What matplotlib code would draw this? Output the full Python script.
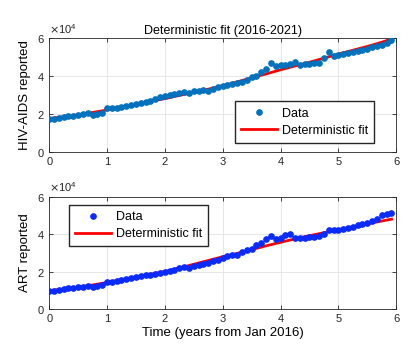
import numpy as np
import matplotlib
matplotlib.use("Agg")
import matplotlib.pyplot as plt
from matplotlib.ticker import ScalarFormatter

plt.rcParams['font.family'] = ['Liberation Sans', 'DejaVu Sans']

# monthly observations, Jan 2016 .. Dec 2021 (x 1e4)
months = np.arange(72)
hiv_data = [1.72, 1.75, 1.78, 1.83, 1.86, 1.90, 1.94, 1.97, 2.02, 1.96, 1.99, 2.02,
            2.28, 2.30, 2.33, 2.36, 2.42, 2.48, 2.52, 2.57, 2.62, 2.70, 2.78, 2.90,
            2.95, 3.00, 3.06, 3.12, 3.15, 3.10, 3.18, 3.20, 3.27, 3.18, 3.33, 3.40,
            3.48, 3.50, 3.56, 3.62, 3.70, 3.78, 3.95, 3.98, 4.18, 4.38, 4.68, 4.50,
            4.55, 4.58, 4.65, 4.72, 4.58, 4.62, 4.65, 4.66, 4.70, 4.95, 5.25, 5.05,
            5.10, 5.15, 5.20, 5.25, 5.30, 5.35, 5.42, 5.50, 5.58, 5.65, 5.75, 5.88]
art_data = [0.98, 1.00, 1.03, 1.08, 1.12, 1.15, 1.18, 1.21, 1.25, 1.21, 1.26, 1.32,
            1.45, 1.48, 1.50, 1.55, 1.60, 1.65, 1.72, 1.78, 1.82, 1.85, 1.90, 1.95,
            2.00, 2.05, 2.12, 2.20, 2.25, 2.20, 2.30, 2.35, 2.40, 2.45, 2.55, 2.65,
            2.75, 2.82, 2.88, 2.90, 3.05, 3.15, 3.20, 3.40, 3.55, 3.75, 3.88, 3.75,
            3.80, 3.95, 4.00, 3.80, 3.78, 3.82, 3.85, 3.85, 3.88, 4.02, 4.22, 4.20,
            4.25, 4.30, 4.35, 4.40, 4.48, 4.52, 4.58, 4.70, 4.80, 5.00, 5.05, 5.15]

# deterministic fit read at quarter-year steps (x 1e4)
fit_t = [0, 0.25, 0.5, 0.75, 1.0, 1.25, 1.5, 1.75, 2.0, 2.25, 2.5, 2.75, 3.0,
         3.25, 3.5, 3.75, 4.0, 4.25, 4.5, 4.75, 5.0, 5.25, 5.5, 5.75, 5.92]
hiv_fit = [1.75, 1.85, 1.95, 2.07, 2.20, 2.35, 2.50, 2.65, 2.80, 2.97, 3.13, 3.30, 3.48,
           3.68, 3.90, 4.10, 4.32, 4.52, 4.72, 4.93, 5.15, 5.35, 5.55, 5.77, 5.95]
art_fit = [1.00, 1.08, 1.18, 1.30, 1.43, 1.58, 1.72, 1.87, 2.02, 2.20, 2.40, 2.60, 2.80,
           2.98, 3.18, 3.38, 3.57, 3.75, 3.92, 4.08, 4.24, 4.40, 4.55, 4.70, 4.80]

t = months / 12.0

fig = plt.figure(figsize=(4.17, 3.48), dpi=100)
ax1 = fig.add_axes([0.118, 0.564, 0.832, 0.327])
ax2 = fig.add_axes([0.118, 0.111, 0.832, 0.324])


def style(ax):
    ax.set_xlim(0, 6)
    ax.set_ylim(0, 6e4)
    ax.set_xticks([0, 1, 2, 3, 4, 5, 6])
    ax.set_yticks([0, 2e4, 4e4, 6e4])
    fmt = ScalarFormatter(useMathText=True)
    fmt.set_powerlimits((0, 0))
    ax.yaxis.set_major_formatter(fmt)
    ax.yaxis.get_offset_text().set_fontsize(8)
    ax.grid(True, color='#e3e3e3', linewidth=0.6)
    ax.set_axisbelow(True)
    ax.tick_params(direction='in', labelsize=8, length=3, width=0.6,
                   top=True, right=True, colors='#262626')
    for s in ax.spines.values():
        s.set_color('#262626')
        s.set_linewidth(0.6)


leg_kw = dict(borderaxespad=0, fontsize=9, fancybox=False, framealpha=1,
              edgecolor='#262626', handlelength=2.9, borderpad=0.5,
              labelspacing=0.4, handletextpad=0.35)

ax1.plot(t, np.array(hiv_data) * 1e4, 'o', color='#0072BD', markersize=3.8,
         label='Data', zorder=3)
ax1.plot(fit_t, np.array(hiv_fit) * 1e4, '-', color='#ff0000', linewidth=2,
         label='Deterministic fit', zorder=2)
style(ax1)
ax1.set_ylabel('HIV-AIDS reported', fontsize=9.5)
ax1.set_title('Deterministic fit (2016-2021)', fontsize=9, pad=3)
ax1.legend(loc='lower right', bbox_to_anchor=(0.937, 0.077), **leg_kw)

ax2.plot(t, np.array(art_data) * 1e4, 'o', color='#0a2bff', markersize=3.8,
         label='Data', zorder=3)
ax2.plot(fit_t, np.array(art_fit) * 1e4, '-', color='#ff0000', linewidth=2,
         label='Deterministic fit', zorder=2)
style(ax2)
ax2.set_ylabel('ART reported', fontsize=9.5)
ax2.set_xlabel('Time (years from Jan 2016)', fontsize=9.5, labelpad=2)
ax2.legend(loc='upper left', bbox_to_anchor=(0.057, 0.926), **leg_kw)

fig.savefig('out.png', dpi=100)
